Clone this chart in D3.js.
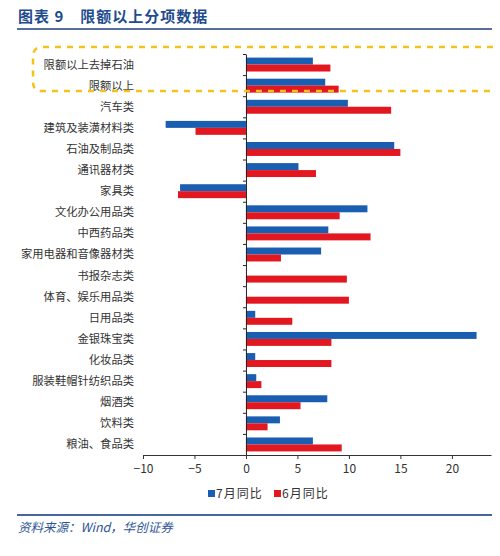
<!DOCTYPE html>
<html lang="zh">
<head>
<meta charset="utf-8">
<script src="https://cdn.jsdelivr.net/npm/d3@7"></script>
<style>
  body { margin: 0; background: #fff; }
  svg text { font-family: "Noto Sans CJK SC", "Noto Sans", sans-serif; }
</style>
</head>
<body>
<div id="chart"></div>
<script>
// categories, top to bottom
const categories = [
  '限额以上去掉石油', '限额以上', '汽车类', '建筑及装潢材料类', '石油及制品类',
  '通讯器材类', '家具类', '文化办公用品类', '中西药品类', '家用电器和音像器材类',
  '书报杂志类', '体育、娱乐用品类', '日用品类', '金银珠宝类', '化妆品类',
  '服装鞋帽针纺织品类', '烟酒类', '饮料类', '粮油、食品类'
]
// 7月同比 (blue); null = no bar shown
const july = [6.5, 7.7, 9.9, -7.8, 14.4, 5.1, -6.4, 11.8, 8.0, 7.3,
              null, null, 0.9, 22.4, 0.9, 1.0, 7.9, 3.3, 6.5]
// 6月同比 (red)
const june = [8.2, 9.0, 14.1, -4.9, 15.0, 6.8, -6.6, 9.1, 12.1, 3.4,
              9.8, 10.0, 4.5, 8.3, 8.3, 1.5, 5.3, 2.1, 9.3]
const seriesNames = ['7月同比', '6月同比']
const seriesColors = ['#1a5eb2', '#e2171f']
const xTicks = [-10, -5, 0, 5, 10, 15, 20]

const w = 500, h = 556
const padL = 143, padR = 491, padT = 54, padB = 455

const svg = d3.select('#chart').append('svg')
  .attr('width', w).attr('height', h)

// title + rule
svg.append('text')
  .attr('x', 18).attr('y', 22)
  .attr('fill', '#1f4b8e')
  .attr('font-size', 15).attr('font-weight', 'bold')
  .attr('letter-spacing', 1)
  .attr('xml:space', 'preserve')
  .text('图表 9　限额以上分项数据')
svg.append('line')
  .attr('x1', 17).attr('x2', 492).attr('y1', 29).attr('y2', 29)
  .attr('stroke', '#1f3f7a').attr('stroke-width', 1.5)

// scales
const x = d3.scaleLinear().domain([-10, 23.8]).range([padL, padR])
const y = d3.scaleBand().domain(categories).range([padT, padB])
  .paddingInner(0.34).paddingOuter(0.17)
const ySub = d3.scaleBand().domain([0, 1]).range([0, y.bandwidth()])

const rows = categories.map((c, i) => ({ cat: c, vals: [july[i], june[i]] }))

const g = svg.selectAll('g.row')
  .data(rows).enter().append('g')
  .attr('class', 'row')
  .attr('transform', d => 'translate(0,' + y(d.cat) + ')')

g.selectAll('rect')
  .data(d => d.vals.map((v, k) => ({ v: v, k: k })).filter(e => e.v !== null))
  .enter().append('rect')
  .attr('x', e => x(Math.min(0, e.v)))
  .attr('width', e => Math.abs(x(e.v) - x(0)))
  .attr('y', e => ySub(e.k))
  .attr('height', ySub.bandwidth())
  .attr('fill', e => seriesColors[e.k])

// category labels (low position)
svg.selectAll('text.cat')
  .data(categories).enter().append('text')
  .attr('class', 'cat')
  .attr('x', 134)
  .attr('y', d => y(d) + y.bandwidth() / 2)
  .attr('dy', '0.35em')
  .attr('text-anchor', 'end')
  .attr('font-size', 11.3)
  .attr('fill', '#333')
  .text(d => d)

// y axis at zero with ticks between categories
const yIdx = d3.scaleLinear().domain([0, categories.length]).range([padT, padB])
svg.append('g')
  .attr('transform', 'translate(' + x(0) + ',0)')
  .call(d3.axisLeft(yIdx).tickValues(d3.range(categories.length + 1))
    .tickSize(3).tickSizeOuter(0).tickFormat(''))
  .call(a => a.selectAll('line,path').attr('stroke', '#222'))

// x axis
svg.append('g')
  .attr('transform', 'translate(0,' + padB + ')')
  .call(d3.axisBottom(x).tickValues(xTicks).tickSize(4).tickSizeOuter(0))
  .call(a => a.select('path').attr('stroke', '#333'))
  .call(a => a.selectAll('line').attr('stroke', '#333'))
  .call(a => a.selectAll('text')
    .attr('font-family', '"Liberation Serif", serif')
    .attr('font-size', 12).attr('fill', '#333').attr('dy', '0.9em'))

// dashed highlight box around the first two rows
const boxTop = y(categories[0]) - 10.5
const boxBot = y(categories[1]) + y.bandwidth() - 1.5
const bx = 33, br = 9
svg.append('path')
  .attr('d', 'M493,' + boxTop + 'H' + (bx + br) +
    'Q' + bx + ',' + boxTop + ' ' + bx + ',' + (boxTop + br) +
    'V' + (boxBot - br) +
    'Q' + bx + ',' + boxBot + ' ' + (bx + br) + ',' + boxBot + 'H493')
  .attr('fill', 'none')
  .attr('stroke', '#f3c21b')
  .attr('stroke-width', 2.5)
  .attr('stroke-dasharray', '6,6')

// legend
const legX = [208, 274]
seriesNames.forEach((s, k) => {
  svg.append('rect')
    .attr('x', legX[k]).attr('y', 490)
    .attr('width', 7).attr('height', 7)
    .attr('fill', seriesColors[k])
  svg.append('text')
    .attr('x', legX[k] + 8).attr('y', 498)
    .attr('font-size', 12).attr('fill', '#333')
    .attr('letter-spacing', 1)
    .text(s)
})

// footer
svg.append('line')
  .attr('x1', 17).attr('x2', 492).attr('y1', 515).attr('y2', 515)
  .attr('stroke', '#4a64a0').attr('stroke-width', 2)
svg.append('text')
  .attr('x', 18).attr('y', 532)
  .attr('font-size', 12.5).attr('font-style', 'italic')
  .attr('fill', '#2f5597')
  .text('资料来源：Wind，华创证券')
</script>
</body>
</html>
